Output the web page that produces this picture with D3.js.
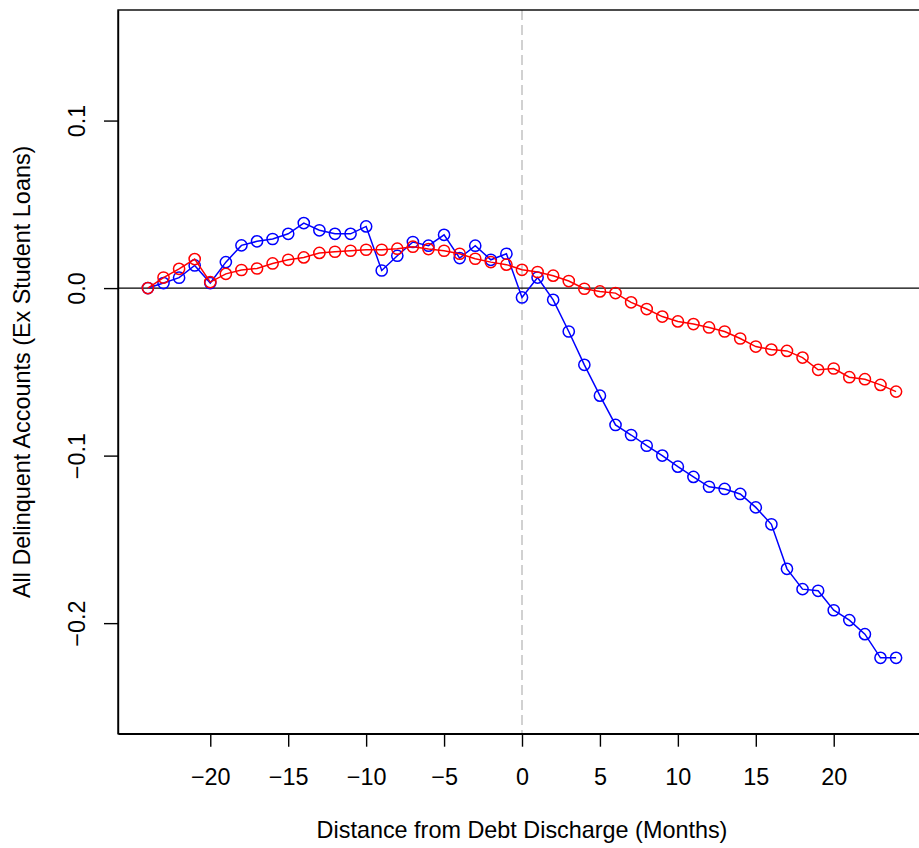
<!DOCTYPE html>
<html>
<head>
<meta charset="utf-8">
<script src="https://cdn.jsdelivr.net/npm/d3@7"></script>
<style>
  html, body { margin: 0; padding: 0; background: #fff; }
  svg { display: block; }
  text { font-family: "Liberation Sans", Arial, Helvetica, sans-serif; fill: #000; }
</style>
</head>
<body>
<svg id="chart" width="919" height="848"></svg>
<script>
// ---- data ----
const months = [-24,-23,-22,-21,-20,-19,-18,-17,-16,-15,-14,-13,-12,-11,-10,-9,-8,-7,-6,-5,-4,-3,-2,-1,
  0,1,2,3,4,5,6,7,8,9,10,11,12,13,14,15,16,17,18,19,20,21,22,23,24];
const blueSeries = [0, 0.003, 0.0062, 0.0135, 0.003, 0.0155, 0.0255, 0.0279, 0.0293, 0.0324, 0.0388, 0.0345,
  0.0324, 0.0324, 0.0368, 0.0105, 0.0193, 0.0275, 0.0253, 0.0318, 0.0179, 0.0253, 0.0169, 0.0205,
  -0.0056, 0.0063, -0.007, -0.0259, -0.0458, -0.0642, -0.0817, -0.0877, -0.0941, -0.1, -0.1066, -0.1127,
  -0.1186, -0.1199, -0.1229, -0.1309, -0.141, -0.1676, -0.1797, -0.1807, -0.1923, -0.1982, -0.2066, -0.2207, -0.2207];
const redSeries = [0, 0.0063, 0.0115, 0.0173, 0.0036, 0.0085, 0.0108, 0.0117, 0.0147, 0.0169, 0.0183, 0.021,
  0.0217, 0.0223, 0.0229, 0.0229, 0.0235, 0.0247, 0.0233, 0.0223, 0.0205, 0.0175, 0.0155, 0.014,
  0.0109, 0.0096, 0.0074, 0.0042, -0.0004, -0.002, -0.003, -0.0085, -0.0125, -0.017, -0.0199, -0.0215,
  -0.0235, -0.0259, -0.0301, -0.0349, -0.0367, -0.0375, -0.0415, -0.0488, -0.048, -0.0532, -0.0544, -0.0578, -0.0618];
const xTicks = [-20,-15,-10,-5,0,5,10,15,20];
const yTicks = [-0.2,-0.1,0,0.1];
const xLabel = "Distance from Debt Discharge (Months)";
const yLabel = "All Delinquent Accounts (Ex Student Loans)";

// ---- layout ----
const W = 919, H = 848;
const L = 118, R = 926, T = 10, B = 733.7;
const fontSize = 23.4;

const svg = d3.select("#chart");
const x = d3.scaleLinear().domain([-25.92, 25.92]).range([L, R]);
const y = d3.scaleLinear().domain([-0.266, 0.166]).range([B, T]);

svg.append("defs").append("clipPath").attr("id", "clip")
  .append("rect").attr("x", L).attr("y", T).attr("width", R - L).attr("height", B - T);

const plot = svg.append("g").attr("clip-path", "url(#clip)");

// reference lines
plot.append("line")
  .attr("x1", x(0)).attr("x2", x(0)).attr("y1", T).attr("y2", B)
  .attr("stroke", "#bebebe").attr("stroke-width", 1.4).attr("stroke-dasharray", "10,5");
plot.append("line")
  .attr("x1", L).attr("x2", R).attr("y1", y(0)).attr("y2", y(0))
  .attr("stroke", "#000").attr("stroke-width", 1.4);

const fmt = v => (v < 0 ? "\u2212" : "") + Math.abs(v).toString();
const fmtY = v => (v < 0 ? "\u2212" : "") + Math.abs(v).toFixed(1);

function drawSeries(vals, color) {
  const pts = months.map((m, i) => [m, vals[i]]);
  const line = d3.line().x(d => x(d[0])).y(d => y(d[1]));
  plot.append("path").datum(pts)
    .attr("d", line).attr("fill", "none").attr("stroke", color).attr("stroke-width", 1.5);
  plot.selectAll(null).data(pts).enter().append("circle")
    .attr("cx", d => x(d[0])).attr("cy", d => y(d[1])).attr("r", 5.6)
    .attr("fill", "none").attr("stroke", color).attr("stroke-width", 1.5);
}
drawSeries(blueSeries, "#0000ff");
drawSeries(redSeries, "#ff0000");

// box
svg.append("rect").attr("x", L).attr("y", T).attr("width", R - L).attr("height", B - T)
  .attr("fill", "none").attr("stroke", "#000").attr("stroke-width", 1.4);

// x axis
const xAxis = d3.axisBottom(x).tickValues(xTicks).tickSize(13).tickSizeOuter(0).tickPadding(23).tickFormat(fmt);
const gx = svg.append("g").attr("transform", `translate(0,${B})`).call(xAxis);
gx.select(".domain").attr("stroke-width", 1.4);
gx.selectAll(".tick line").attr("stroke-width", 1.4);
gx.selectAll(".tick text").attr("font-size", fontSize).attr("font-family", "Liberation Sans, Arial, sans-serif").attr("dy", 0).attr("y", 51);

// y axis
const yAxis = d3.axisLeft(y).tickValues(yTicks).tickSize(14).tickSizeOuter(0).tickFormat(fmtY);
const gy = svg.append("g").attr("transform", `translate(${L},0)`).call(yAxis);
gy.select(".domain").attr("stroke-width", 1.4);
gy.selectAll(".tick line").attr("stroke-width", 1.4);
gy.selectAll(".tick text")
  .attr("font-size", fontSize).attr("font-family", "Liberation Sans, Arial, sans-serif")
  .attr("x", null).attr("dy", null)
  .attr("text-anchor", "middle")
  .attr("transform", `translate(${85 - L},0) rotate(-90)`);

// titles
svg.append("text").attr("x", (L + R) / 2).attr("y", 838).attr("text-anchor", "middle")
  .attr("font-size", fontSize).text(xLabel);
svg.append("text").attr("transform", `translate(30,${(T + B) / 2}) rotate(-90)`)
  .attr("text-anchor", "middle").attr("font-size", fontSize).text(yLabel);
</script>
</body>
</html>
